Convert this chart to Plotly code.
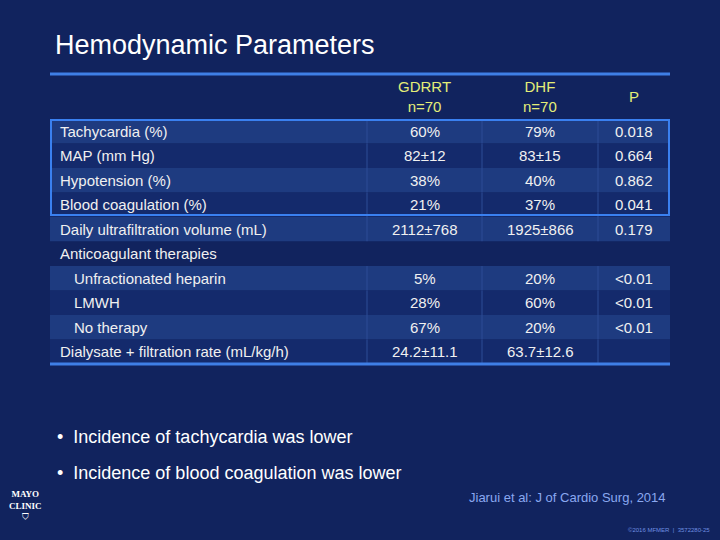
import plotly.graph_objects as go

params = ["Tachycardia (%)", "MAP (mm Hg)", "Hypotension (%)", "Blood coagulation (%)",
          "Daily ultrafiltration volume (mL)", "Anticoagulant therapies",
          "Unfractionated heparin", "LMWH", "No therapy",
          "Dialysate + filtration rate (mL/kg/h)"]
indented = [False, False, False, False, False, False, True, True, True, False]
gdrrt = ["60%", "82±12", "38%", "21%", "2112±768", "", "5%", "28%", "67%", "24.2±11.1"]
dhf = ["79%", "83±15", "40%", "37%", "1925±866", "", "20%", "60%", "20%", "63.7±12.6"]
pvals = ["0.018", "0.664", "0.862", "0.041", "0.179", "", "<0.01", "<0.01", "<0.01", ""]
headers = ["GDRRT<br>n=70", "DHF<br>n=70", "P"]

W, H = 720, 540
light, dark, bg = "#1e3b80", "#142a6c", "#11235e"
col_edges = [50, 367, 482, 598, 670]
row_top, row_h = 119, 24.5

def py(px):
    return 1 - px / H

fig = go.Figure()
shapes, ann = [], []

def text(s, x, y, anchor, size=15, color="#f0f0f0", **kw):
    ann.append(dict(text=s, x=x / W, y=py(y), xanchor=anchor, yanchor="middle",
                    font=dict(size=size, color=color, family="Liberation Sans"), **kw))

for c, h in enumerate(headers):
    text(h, (col_edges[c + 1] + col_edges[c + 2]) / 2, 97, "center", color="#e4ee78")

for i, name in enumerate(params):
    y0 = row_top + i * row_h
    fill = bg if i == 5 else (light if i % 2 == 0 else dark)
    shapes.append(dict(type="rect", x0=50 / W, x1=670 / W, y0=py(y0 + row_h), y1=py(y0),
                       fillcolor=fill, line=dict(width=0), layer="below"))
    if i != 5:
        for xe in col_edges[1:4]:
            shapes.append(dict(type="line", x0=xe / W, x1=xe / W, y0=py(y0 + row_h), y1=py(y0),
                               line=dict(color="#2c4c96", width=1), layer="below"))
    yc = y0 + row_h / 2
    text(name, 72 if indented[i] else 58, yc, "left")
    for c, vals in enumerate([gdrrt, dhf, pvals]):
        text(vals[i], (col_edges[c + 1] + col_edges[c + 2]) / 2, yc, "center")

shapes += [
    dict(type="line", x0=50 / W, x1=670 / W, y0=py(74), y1=py(74), line=dict(color="#3f7fe6", width=3)),
    dict(type="line", x0=50 / W, x1=670 / W, y0=py(364), y1=py(364), line=dict(color="#3f7fe6", width=3)),
    dict(type="rect", x0=51 / W, x1=669 / W, y0=py(215), y1=py(120), line=dict(color="#3a80f0", width=2)),
]
for s in shapes:
    s.update(xref="paper", yref="paper")

text("Hemodynamic Parameters", 53, 45, "left", size=27, color="white")
text("•  Incidence of tachycardia was lower", 55, 437, "left", size=18, color="white")
text("•  Incidence of blood coagulation was lower", 55, 473, "left", size=18, color="white")
text("Jiarui et al: J of Cardio Surg, 2014", 668, 497, "right", size=13, color="#8aa8f0")
text("©2016 MFMER  |  3572280-25", 712, 530, "right", size=6, color="#6f8fe0")
ann.append(dict(text="<b>MAYO<br>CLINIC</b><br>⛉", x=26 / W, y=py(505), xanchor="center",
                yanchor="middle", font=dict(size=9, color="white", family="Liberation Serif")))
for a in ann:
    a.update(xref="paper", yref="paper", showarrow=False)

fig.update_layout(width=W, height=H, margin=dict(l=0, r=0, t=0, b=0),
                  paper_bgcolor=bg, plot_bgcolor=bg,
                  xaxis=dict(visible=False), yaxis=dict(visible=False),
                  shapes=shapes, annotations=ann)
fig.write_html("out.html", config=dict(displayModeBar=False),
               post_script="document.body.style.margin='0';")
